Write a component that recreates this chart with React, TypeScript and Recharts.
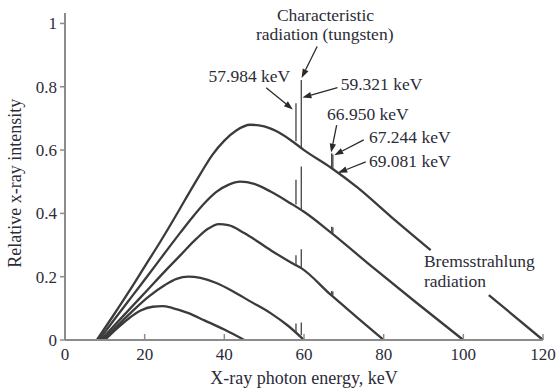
import React from 'react';
import { LineChart, Line, XAxis, YAxis, ReferenceLine, ReferenceDot } from 'recharts';

const FONT = "'Liberation Serif', 'Times New Roman', Tinos, 'DejaVu Serif', 'Noto Serif', Times, serif";
const INK = '#2c2c38';
const CURVE = '#3b3b3b';
const AXIS = '#8c8c8c';

// Bremsstrahlung spectra, one per tube voltage (energy keV, relative intensity)
const curve45 = [
  { e: 10, i: 0 }, { e: 13, i: 0.036 }, { e: 16, i: 0.068 }, { e: 19, i: 0.093 }, { e: 22, i: 0.105 },
  { e: 24.5, i: 0.107 }, { e: 27, i: 0.101 }, { e: 31, i: 0.085 }, { e: 35, i: 0.062 }, { e: 40, i: 0.033 },
  { e: 45, i: 0 },
];
const curve60 = [
  { e: 9.5, i: 0 }, { e: 13, i: 0.043 }, { e: 17, i: 0.092 }, { e: 21, i: 0.137 }, { e: 25, i: 0.173 },
  { e: 28, i: 0.193 }, { e: 31, i: 0.2 }, { e: 34, i: 0.196 }, { e: 38, i: 0.18 }, { e: 42, i: 0.155 },
  { e: 46.5, i: 0.122 }, { e: 51.6, i: 0.085 }, { e: 56, i: 0.045 }, { e: 60, i: 0 },
];
const curve80 = [
  { e: 9, i: 0 }, { e: 13, i: 0.054 }, { e: 17, i: 0.108 }, { e: 21, i: 0.162 }, { e: 25, i: 0.216 },
  { e: 29, i: 0.268 }, { e: 33, i: 0.32 }, { e: 36, i: 0.352 }, { e: 38.6, i: 0.366 }, { e: 41, i: 0.363 },
  { e: 45, i: 0.338 }, { e: 51.6, i: 0.284 }, { e: 57.4, i: 0.24 }, { e: 59.3, i: 0.227 }, { e: 66.7, i: 0.143 },
  { e: 73, i: 0.075 }, { e: 80, i: 0 },
];
const curve100 = [
  { e: 8.5, i: 0 }, { e: 13, i: 0.075 }, { e: 17, i: 0.141 }, { e: 21, i: 0.207 }, { e: 25, i: 0.274 },
  { e: 29, i: 0.34 }, { e: 32, i: 0.388 }, { e: 35, i: 0.432 }, { e: 38, i: 0.468 }, { e: 41, i: 0.49 },
  { e: 44, i: 0.5 }, { e: 47.5, i: 0.493 }, { e: 51.6, i: 0.469 }, { e: 56.6, i: 0.432 }, { e: 60, i: 0.405 },
  { e: 66.7, i: 0.34 }, { e: 77.6, i: 0.226 }, { e: 88, i: 0.12 }, { e: 100, i: 0 },
];
// 120 keV curve is interrupted by the "Bremsstrahlung radiation" label
const curve120a = [
  { e: 8, i: 0 }, { e: 12, i: 0.075 }, { e: 16, i: 0.152 }, { e: 20, i: 0.232 }, { e: 24, i: 0.312 },
  { e: 27.2, i: 0.379 }, { e: 30, i: 0.44 }, { e: 34, i: 0.525 }, { e: 37, i: 0.585 }, { e: 40, i: 0.63 },
  { e: 43, i: 0.662 }, { e: 46.5, i: 0.68 }, { e: 50, i: 0.675 }, { e: 53, i: 0.66 }, { e: 56.6, i: 0.632 },
  { e: 60, i: 0.6 }, { e: 66.7, i: 0.545 }, { e: 73.4, i: 0.482 }, { e: 81.8, i: 0.39 }, { e: 91.8, i: 0.284 },
];
const curve120b = [{ e: 106.4, i: 0.142 }, { e: 120, i: 0 }];

// tungsten characteristic lines (keV) and the spike base/top on each curve
const lineEnergies = [57.984, 59.321, 66.95, 67.244, 69.081];
const spikeBase60 = [0.022, 0.015, null, null, null];
const spikeTop60 = [0.052, 0.055, null, null, null];
const spikeBase80 = [0.237, 0.227, 0.145, 0.142, null];
const spikeTop80 = [0.268, 0.287, 0.155, 0.153, null];
const spikeBase100 = [0.428, 0.41, 0.342, 0.338, null];
const spikeTop100 = [0.506, 0.548, 0.358, 0.356, null];
const spikeBase120 = [0.628, 0.61, 0.545, 0.542, 0.525];
const spikeTop120 = [0.748, 0.821, 0.59, 0.586, 0.535];

const xTicks = [0, 20, 40, 60, 80, 100, 120];
const yTicks = [0, 0.2, 0.4, 0.6, 0.8, 1];

// annotation texts: [text, x, y, anchor, rotation]
const notes: [string, number, number, string, number][] = [
  ['Characteristic', 65.4, 1.007, 'middle', 0],
  ['radiation (tungsten)', 65.2, 0.948, 'middle', 0],
  ['57.984 keV', 46.3, 0.814, 'middle', 0],
  ['59.321 keV', 69.2, 0.79, 'start', 0],
  ['66.950 keV', 65.8, 0.695, 'start', 0],
  ['67.244 keV', 76.3, 0.621, 'start', 0],
  ['69.081 keV', 76.3, 0.548, 'start', 0],
  ['Bremsstrahlung', 90.1, 0.232, 'start', 0],
  ['radiation', 90.1, 0.168, 'start', 0],
  // axis titles, placed just outside the plot
  ['X-ray photon energy, keV', 60, -0.139, 'middle', 0],
  ['Relative x-ray intensity', -11.05, 0.495, 'middle', -90],
];
// arrows: from [x, y] to tip [x, y]
const arrows = [
  [[63.3, 0.927], [59.4, 0.828]],
  [[50.5, 0.797], [57.2, 0.728]],
  [[68.4, 0.797], [59.6, 0.766]],
  [[68.2, 0.679], [66.8, 0.592]],
  [[75.0, 0.632], [67.6, 0.584]],
  [[75.5, 0.563], [68.6, 0.528]],
];

const curves = [curve45, curve60, curve80, curve100, curve120a, curve120b];
const spikeSets = [
  [spikeBase60, spikeTop60],
  [spikeBase80, spikeTop80],
  [spikeBase100, spikeTop100],
  [spikeBase120, spikeTop120],
];

const ArrowShape = (p: any) => {
  const { x1, y1, x2, y2 } = p;
  const a = Math.atan2(y2 - y1, x2 - x1);
  const len = 9;
  const w = 3.2;
  const bx = x2 - len * Math.cos(a);
  const by = y2 - len * Math.sin(a);
  const px = -Math.sin(a) * w;
  const py = Math.cos(a) * w;
  return (
    <g>
      <line x1={x1} y1={y1} x2={bx} y2={by} stroke="#2a2a2a" strokeWidth={1.3} />
      <polygon points={`${x2},${y2} ${bx + px},${by + py} ${bx - px},${by - py}`} fill="#2a2a2a" />
    </g>
  );
};

const XTick = ({ x, y, payload }: any) => (
  <g>
    <line x1={x} y1={y} x2={x} y2={y - 6} stroke={AXIS} strokeWidth={1.5} />
    <text x={x} y={y + 20} textAnchor="middle" style={{ fontFamily: FONT }} fontSize={17} fill={INK}>
      {payload.value}
    </text>
  </g>
);

export default function App() {
  return (
    <div
      style={{
        position: 'absolute',
        left: 0,
        top: 0,
        width: 559,
        height: 388,
        overflow: 'hidden',
        background: '#fff',
        fontFamily: FONT,
      }}
    >
      <LineChart width={559} height={388} margin={{ top: 13, right: 16, bottom: 0, left: 0 }}>
        <XAxis
          dataKey="e"
          type="number"
          domain={[0, 120]}
          ticks={xTicks}
          height={48}
          tickSize={0}
          tickMargin={0}
          tickLine={false}
          tick={<XTick />}
          axisLine={{ stroke: AXIS, strokeWidth: 2 }}
          allowDuplicatedCategory={false}
        />
        <YAxis
          type="number"
          domain={[0, 1.033]}
          ticks={yTicks}
          width={65}
          tickSize={5}
          tickMargin={3}
          tickLine={{ stroke: AXIS, strokeWidth: 1.5 }}
          axisLine={{ stroke: AXIS, strokeWidth: 2 }}
          tick={{ fill: INK, fontSize: 17, style: { fontFamily: FONT } }}
        />
        {curves.map((d, k) => (
          <Line
            key={k}
            data={d}
            dataKey="i"
            type="monotone"
            stroke={CURVE}
            strokeWidth={2.3}
            dot={false}
            activeDot={false}
            isAnimationActive={false}
          />
        ))}
        {spikeSets.map(([base, top], k) =>
          lineEnergies.map((e, j) =>
            base[j] == null ? null : (
              <ReferenceLine
                key={`s${k}-${j}`}
                segment={[{ x: e, y: base[j] as number }, { x: e, y: top[j] as number }]}
                stroke="#444"
                strokeWidth={1.3}
              />
            )
          )
        )}
        {arrows.map(([from, to], k) => (
          <ReferenceLine
            key={`a${k}`}
            segment={[{ x: from[0], y: from[1] }, { x: to[0], y: to[1] }]}
            shape={ArrowShape}
          />
        ))}
        {notes.map(([t, x, y, anchor, rot], k) => (
          <ReferenceDot
            key={`n${k}`}
            x={x}
            y={y}
            ifOverflow="visible"
            shape={(p: any) => (
              <text
                x={p.cx}
                y={p.cy}
                transform={rot ? `rotate(${rot} ${p.cx} ${p.cy})` : undefined}
                textAnchor={anchor}
                style={{ fontFamily: FONT }}
                fontSize={k >= 9 ? 18 : 17.5}
                fill={INK}
              >
                {t}
              </text>
            )}
          />
        ))}
      </LineChart>
    </div>
  );
}
